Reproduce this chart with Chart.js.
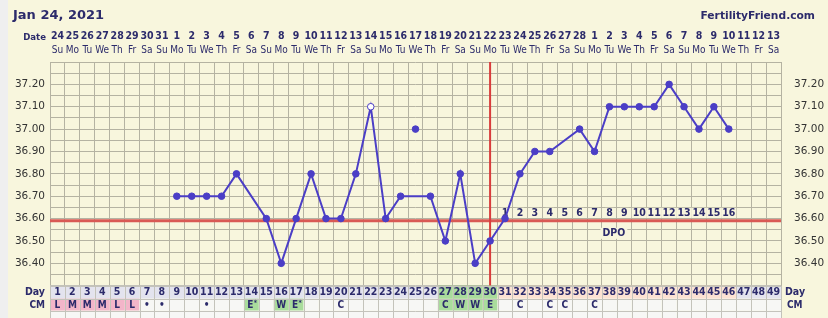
<!DOCTYPE html>
<html><head><meta charset="utf-8">
<script src="https://cdn.jsdelivr.net/npm/chart.js@4/dist/chart.umd.min.js"></script>
<style>html,body{margin:0;padding:0;background:#efefef;overflow:hidden}canvas{display:block}</style>
</head><body><canvas id="c" width="828" height="318"></canvas>
<script>
// ---- data ----
const DAYS = Array.from({length:49},(_,i)=>String(i+1));
const DATES = ['24','25','26','27','28','29','30','31',
  '1','2','3','4','5','6','7','8','9','10','11','12','13','14','15','16','17','18','19','20','21','22','23','24','25','26','27','28',
  '1','2','3','4','5','6','7','8','9','10','11','12','13'];
const WEEKDAYS = ['Su','Mo','Tu','We','Th','Fr','Sa'];
const TEMPS = [null,null,null,null,null,null,null,null,
  36.70,36.70,36.70,36.70,36.80,null,
  36.60,36.40,36.60,36.80,36.60,36.60,36.80,37.10,36.60,36.70,null,
  36.70,36.50,36.80,36.40,36.50,36.60,36.80,36.90,36.90,null,
  37.00,36.90,37.10,37.10,37.10,37.10,37.20,37.10,37.00,37.10,37.00,null,null,null];
const DISCARDED = [null,null,null,null,null,null,null,null,null,null,null,null,null,null,null,null,null,null,null,null,null,null,null,null,
  37.00,null,null,null,null,null,null,null,null,null,null,null,null,null,null,null,null,null,null,null,null,null,null,null,null];
const OPEN_POINT_DAYS = ['22'];
const COVERLINE = 36.59;
const OVULATION_DAY = '30';
const DPO_LABELS = ['1','2','3','4','5','6','7','8','9','10','11','12','13','14','15','16'];
const DPO_START_DAY = '31';
const Y_LABELS = ['36.40','36.50','36.60','36.70','36.80','36.90','37.00','37.10','37.20'];
const DAY_ZONE = ['n','n','n','n','n','n','n','n','n','n','n','n','n','n','n','n','n','n','n','n','n','n','n','n','n','n',
  'g','g','g','g','p','p','p','p','p','p','p','p','p','p','p','p','p','p','p','p','n','n','n'];
const CM = ['L','M','M','M','L','L','•','•','','','•','','','E*','','W','E*','','','C','','','','','','',
  'C','W','W','E','','C','','C','C','','C','','','','','','','','','','','',''];
const CM_ZONE = ['m','m','m','m','m','m','','','','','','','','g','','g','g','','','','','','','','','',
  'g','g','g','g','','','','','','','','','','','','','','','','','','',''];

// ---- styles ----
const CREAM = '#f8f6dd', GRID = '#b5b3a2', NAVY = '#2c2b6b', LINE = '#4b3ec6';
const ZONE_COL = {n:'#e3e3ee', g:'#a9dc9c', p:'#fce2d3', m:'#f3b5c9', '':'#f7f7f5'};
const FONT = "'DejaVu Sans',sans-serif";
const COND = "'DejaVu Sans Condensed','DejaVu Sans',sans-serif";
Chart.defaults.font.family = FONT;

const tickCb = v => { const s = (Math.round(v*100)/100).toFixed(2); return Y_LABELS.includes(s) ? s : ''; };

const chartPlugin = {
  id:'ff',
  beforeDraw(chart){
    const c = chart.ctx;
    c.save();
    c.fillStyle = '#efefef'; c.fillRect(0,0,828,318);
    c.fillStyle = CREAM; c.fillRect(8,0,820,318);
    c.restore();
  },
  beforeDatasetsDraw(chart){
    const c = chart.ctx, xs = chart.scales.x, ys = chart.scales.y, a = chart.chartArea;
    c.save();
    const cy = ys.getPixelForValue(COVERLINE);
    c.strokeStyle = '#d95a55'; c.lineWidth = 3;
    c.beginPath(); c.moveTo(a.left, cy); c.lineTo(a.right, cy); c.stroke();
    const ox = xs.getPixelForValue(DAYS.indexOf(OVULATION_DAY));
    c.strokeStyle = '#d93c3c'; c.lineWidth = 2;
    c.beginPath(); c.moveTo(ox, a.top); c.lineTo(ox, a.bottom); c.stroke();
    const start = DAYS.indexOf(DPO_START_DAY);
    c.font = "bold 10.5px " + COND; c.textAlign='center'; c.textBaseline='middle';
    DPO_LABELS.forEach((t,i)=>{
      const x = xs.getPixelForValue(start+i), y = cy - 8;
      const w = c.measureText(t).width + 2;
      c.fillStyle = CREAM; c.fillRect(x - w/2, y - 5, w, 10);
      c.fillStyle = NAVY; c.fillText(t, x, y);
    });
    const mx = (xs.getPixelForValue(start) + xs.getPixelForValue(start+DPO_LABELS.length-1))/2 - 3;
    const w = c.measureText('DPO').width + 4;
    c.fillStyle = CREAM; c.fillRect(mx - w/2, cy + 7, w, 11);
    c.fillStyle = NAVY; c.fillText('DPO', mx, cy + 12.5);
    c.restore();
  },
  afterDraw(chart){
    const c = chart.ctx, xs = chart.scales.x, a = chart.chartArea;
    const cw = xs.getPixelForValue(1) - xs.getPixelForValue(0);
    c.save();
    c.fillStyle = NAVY; c.textBaseline = 'middle';
    c.font = "bold 13px " + FONT; c.textAlign = 'left';
    c.fillText('Jan 24, 2021', 13, 16);
    c.font = "bold 10.7px " + FONT; c.textAlign = 'right';
    c.fillText('FertilityFriend.com', 815, 16);
    c.font = "bold 9.5px " + COND; c.textAlign = 'right';
    c.fillText('Date', 46, 38);
    c.textAlign = 'center';
    DATES.forEach((d,i)=>{
      c.font = "bold 10.5px " + COND;
      c.fillText(d, xs.getPixelForValue(i), 36);
      c.font = "10px " + COND;
      c.fillText(WEEKDAYS[i%7], xs.getPixelForValue(i), 50);
    });
    const r0 = a.bottom, r1 = r0 + 13, r2 = r1 + 12, r3 = r2 + 13;
    DAYS.forEach((d,i)=>{
      const x0 = xs.getPixelForValue(i) - cw/2;
      c.fillStyle = ZONE_COL[DAY_ZONE[i]]; c.fillRect(x0, r0, cw, r1-r0);
      c.fillStyle = ZONE_COL[CM_ZONE[i]]; c.fillRect(x0, r1, cw, r2-r1);
      c.fillStyle = ZONE_COL['']; c.fillRect(x0, r2, cw, r3-r2);
    });
    c.strokeStyle = '#c4c3bb'; c.lineWidth = 1;
    c.beginPath();
    for (let i=0;i<=DAYS.length;i++){
      const x = Math.round(xs.getPixelForValue(i) - cw/2) + 0.5;
      c.moveTo(x, r0); c.lineTo(x, 318);
    }
    [r0, r1, r2, r3].forEach(y=>{ const yy=Math.round(y)+0.5; c.moveTo(a.left, yy); c.lineTo(a.right, yy); });
    c.stroke();
    c.fillStyle = NAVY; c.textAlign = 'center'; c.textBaseline = 'middle';
    DAYS.forEach((d,i)=>{
      const x = xs.getPixelForValue(i);
      c.font = "bold 10.5px " + COND;
      c.fillText(d, x, (r0+r1)/2 + 0.5);
      const t = CM[i];
      if (t){
        c.font = "bold 10px " + COND;
        if (t.endsWith('*')){
          c.fillText(t[0], x - 1, (r1+r2)/2 + 0.5);
          c.font = "bold 7px " + COND;
          c.fillText('*', x + 4, (r1+r2)/2 - 2);
        } else c.fillText(t, x, (r1+r2)/2 + 0.5);
      }
    });
    c.font = "bold 10.5px " + COND;
    c.textAlign = 'right';
    c.fillText('Day', 45, (r0+r1)/2 + 0.5);
    c.font = "bold 10px " + COND;
    c.fillText('CM', 45, (r1+r2)/2 + 0.5);
    c.textAlign = 'left';
    c.font = "bold 10.5px " + COND;
    c.fillText('Day', 785, (r0+r1)/2 + 0.5);
    c.font = "bold 10px " + COND;
    c.fillText('CM', 787, (r1+r2)/2 + 0.5);
    c.restore();
  }
};

new Chart(document.getElementById('c'), {
  type: 'line',
  data: { labels: DAYS, datasets: [
    { data: TEMPS, borderColor: LINE, borderWidth: 2, tension: 0, spanGaps: true,
      pointRadius: 3.3, pointBorderWidth: 1, pointBorderColor: LINE,
      pointBackgroundColor: ctx => OPEN_POINT_DAYS.includes(DAYS[ctx.dataIndex]) ? '#ffffff' : LINE,
      segment: { borderDash: ctx => (ctx.p1DataIndex - ctx.p0DataIndex > 1) ? [4,2] : undefined } },
    { data: DISCARDED, showLine: false, pointRadius: 3.3, pointBorderWidth: 1,
      pointBorderColor: LINE, pointBackgroundColor: LINE }
  ]},
  options: {
    responsive: false, animation: false, devicePixelRatio: 1,
    layout: { padding: { top: 62, bottom: 32.3, left: 0, right: 0 } },
    plugins: { legend: { display: false }, tooltip: { enabled: false } },
    scales: {
      x: { type: 'category', offset: true,
        grid: { color: GRID, offset: true, drawTicks: false },
        border: { display: false }, ticks: { display: false },
        afterFit: s => { s.height = 0; } },
      y: { position: 'left', min: 36.3, max: 37.3,
        ticks: { stepSize: 0.05, autoSkip: false, padding: 5, color: '#333', font: { size: 10.5 }, callback: tickCb },
        grid: { color: GRID, drawTicks: false }, border: { display: false },
        afterFit: s => { s.width = 50; } },
      y2: { position: 'right', min: 36.3, max: 37.3,
        ticks: { stepSize: 0.05, autoSkip: false, padding: 5, color: '#333', font: { size: 10.5 }, callback: tickCb },
        grid: { display: false }, border: { display: false },
        afterFit: s => { s.width = 47; } }
    }
  },
  plugins: [chartPlugin]
});
</script>
</body></html>
